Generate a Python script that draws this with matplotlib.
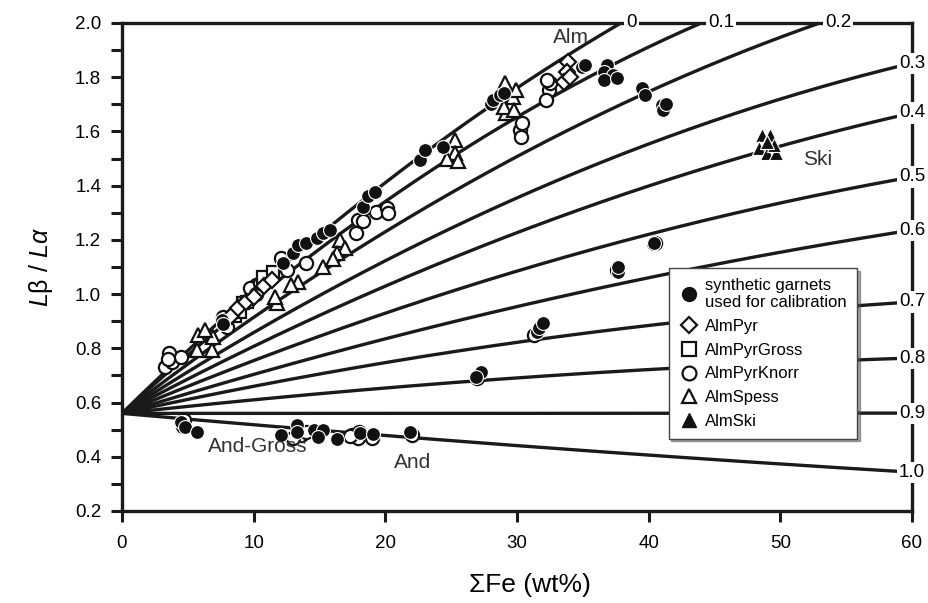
import matplotlib
matplotlib.use("Agg")
import matplotlib.pyplot as plt
import numpy as np
from matplotlib.lines import Line2D

plt.rcParams["font.family"] = ["Liberation Sans", "DejaVu Sans"]
plt.rcParams["mathtext.fontset"] = "custom"
plt.rcParams["mathtext.rm"] = "Liberation Sans"
plt.rcParams["mathtext.it"] = "Liberation Sans:italic"

# model curves: all start at (0, y0), pass a mid point and an end point
curve_labels = ["0", "0.1", "0.2", "0.3", "0.4", "0.5", "0.6", "0.7", "0.8", "0.9", "1.0"]
curve_y0 = 0.56
curve_xmid = 19.6
curve_ymid = [1.396, 1.328, 1.218, 1.113, 1.021, 0.923, 0.830, 0.744, 0.652, 0.560, 0.480]
curve_xend = [37.9, 44.0, 53.0, 60, 60, 60, 60, 60, 60, 60, 60]
curve_yend = [2.0, 2.0, 2.0, 1.852, 1.668, 1.432, 1.236, 0.971, 0.764, 0.561, 0.343]
# label positions for curves ending on the top edge
top_label_x = [38.7, 45.5, 54.4]

# synthetic garnets used for calibration (filled circles)
syn_x = [7.6, 7.7, 4.5, 4.8, 5.7, 12.1, 13.3, 13.3, 14.6, 15.3, 14.9, 16.3, 18.1, 19.1, 21.9,
         12.25, 13.0, 13.4, 14.0, 14.8, 15.3, 15.8, 18.3, 18.7, 19.2, 22.6, 23.0, 24.4,
         28.0, 28.2, 28.7, 29.0, 34.9, 35.2, 36.8, 36.6, 37.3, 36.6, 37.6, 39.5, 39.7,
         41.0, 41.1, 41.3, 40.3, 40.4, 37.7, 37.7, 31.5, 31.7, 32.0, 27.3, 26.9]
syn_y = [0.904, 0.89, 0.53, 0.51, 0.49, 0.48, 0.517, 0.49, 0.50, 0.498, 0.473, 0.467, 0.486, 0.483, 0.492,
         1.113, 1.15, 1.181, 1.187, 1.206, 1.224, 1.236, 1.32, 1.36, 1.377, 1.494, 1.531, 1.544,
         1.70, 1.716, 1.734, 1.74, 1.839, 1.845, 1.845, 1.82, 1.808, 1.79, 1.796, 1.759, 1.734,
         1.697, 1.679, 1.70, 1.184, 1.19, 1.082, 1.10, 0.861, 0.876, 0.892, 0.713, 0.695]

# AlmPyr (open diamonds)
pyr_x = [33.9, 33.8, 33.6, 34.0, 8.3, 8.8, 9.4, 10.0, 10.8, 11.4]
pyr_y = [1.857, 1.82, 1.783, 1.80, 0.92, 0.947, 0.97, 0.99, 1.03, 1.052]

# AlmPyrGross (open squares)
gross_x = [8.6, 9.0, 9.2, 9.5, 10.7, 11.5]
gross_y = [0.92, 0.935, 0.966, 0.972, 1.064, 1.08]

# AlmPyrKnorr (open circles)
knorr_x = [3.6, 3.3, 3.8, 4.5, 3.5, 7.7, 8.0, 10.2, 9.7, 10.2, 10.5, 12.1, 12.5, 14.0,
           17.8, 17.9, 18.3, 19.3, 20.1, 20.2, 30.2, 30.35, 30.3, 32.4, 32.2, 32.5, 32.3,
           13.6, 13.0, 14.0, 17.5, 17.9, 18.0, 17.3, 22.0, 4.7, 4.6, 27.0, 31.3, 40.5, 37.6, 19.0]
knorr_y = [0.781, 0.73, 0.75, 0.769, 0.76, 0.916, 0.88, 1.033, 1.021, 1.0, 1.04, 1.132, 1.089, 1.113,
           1.224, 1.273, 1.27, 1.304, 1.316, 1.30, 1.605, 1.63, 1.58, 1.753, 1.716, 1.778, 1.79,
           0.48, 0.47, 0.49, 0.48, 0.47, 0.49, 0.475, 0.48, 0.535, 0.515, 0.69, 0.85, 1.19, 1.09, 0.47]

# AlmSpess (open triangles)
spess_x = [29.2, 29.7, 29.9, 29.2, 29.0, 29.8, 29.1, 25.3, 25.3, 24.65, 25.5, 16.55, 16.9,
           16.3, 15.3, 16.0, 13.4, 12.8, 11.75, 11.65, 5.8, 5.67, 6.8, 6.9, 6.3]
spess_y = [1.753, 1.728, 1.753, 1.667, 1.69, 1.679, 1.78, 1.568, 1.52, 1.50, 1.49, 1.199, 1.169,
           1.15, 1.10, 1.13, 1.045, 1.033, 0.966, 0.99, 0.849, 0.793, 0.793, 0.842, 0.867]

# AlmSki (filled triangles)
ski_x = [48.6, 49.2, 48.4, 48.95, 49.7, 49.5, 49.0]
ski_y = [1.587, 1.587, 1.538, 1.519, 1.519, 1.55, 1.56]

# composition labels
comp_names = ["Alm", "Ski", "And-Gross", "And"]
comp_x = [34.1, 52.8, 10.3, 22.1]
comp_y = [1.945, 1.495, 0.436, 0.38]

fig = plt.figure(figsize=(9.29, 6.03), dpi=100)
ax = fig.add_axes([0.1313, 0.1526, 0.8504, 0.8093])

# curves
xs = np.linspace(0, 60, 400)
for lab, ym, xe, ye in zip(curve_labels, curve_ymid, curve_xend, curve_yend):
    coef = np.polyfit([0, curve_xmid, xe], [curve_y0, ym, ye], 2)
    ax.plot(xs, np.polyval(coef, xs), color="#1a1a1a", lw=2.4, zorder=2,
            solid_capstyle="butt")

lab_box = dict(facecolor="white", edgecolor="none", pad=1.5)
for i, lab in enumerate(curve_labels):
    if curve_yend[i] >= 2.0:
        ax.text(top_label_x[i], 2.0, lab, ha="center", va="center", fontsize=13.5,
                bbox=lab_box, zorder=6, clip_on=False)
    else:
        ax.text(60, curve_yend[i], lab, ha="center", va="center", fontsize=13.5,
                bbox=lab_box, zorder=6, clip_on=False)

ms = 9.5
open_kw = dict(linestyle="none", markerfacecolor="white", markeredgecolor="#111111",
               markeredgewidth=1.6, markersize=ms, zorder=3)
ax.plot(knorr_x, knorr_y, marker="o", **open_kw)
ax.plot(gross_x, gross_y, marker="s", **dict(open_kw, markersize=ms - 1))
ax.plot(pyr_x, pyr_y, marker="D", **dict(open_kw, markersize=ms - 1.5))
ax.plot(spess_x, spess_y, marker="^", **open_kw)
ax.plot(syn_x, syn_y, marker="o", linestyle="none", markerfacecolor="#111111",
        markeredgecolor="white", markeredgewidth=0.8, markersize=ms + 0.5, zorder=4)
ax.plot(ski_x, ski_y, marker="^", linestyle="none", markerfacecolor="#111111",
        markeredgecolor="white", markeredgewidth=0.8, markersize=ms + 0.5, zorder=4)

for name, tx, ty in zip(comp_names, comp_x, comp_y):
    ax.text(tx, ty, name, ha="center", va="center", fontsize=15, color="#333333", zorder=5)

ax.set_xlim(0, 60)
ax.set_ylim(0.2, 2.0)
ax.set_xticks(np.arange(0, 61, 10))
ax.set_yticks(np.arange(0.2, 2.01, 0.2))
ax.set_yticks(np.arange(0.3, 2.0, 0.2), minor=True)
ax.set_yticklabels([f"{v:.1f}" for v in np.arange(0.2, 2.01, 0.2)])
ax.tick_params(axis="both", which="both", direction="out", length=8, width=2.2,
               labelsize=13.5, color="#1a1a1a")
ax.tick_params(axis="x", pad=9)
ax.tick_params(axis="y", pad=7)
for side in ["left", "bottom", "top", "right"]:
    ax.spines[side].set_linewidth(2.4)
    ax.spines[side].set_color("#1a1a1a")

ax.set_xlabel("ΣFe (wt%)", fontsize=19)
ax.xaxis.set_label_coords(0.516, -0.128)
ax.set_ylabel(r"$L$β / $L\alpha$", fontsize=18, labelpad=14)

handles = [
    Line2D([], [], marker="o", ls="none", mfc="#111111", mec="#111111", ms=10),
    Line2D([], [], marker="D", ls="none", mfc="white", mec="#111111", mew=1.6, ms=8),
    Line2D([], [], marker="s", ls="none", mfc="white", mec="#111111", mew=1.6, ms=9.5),
    Line2D([], [], marker="o", ls="none", mfc="white", mec="#111111", mew=1.6, ms=10),
    Line2D([], [], marker="^", ls="none", mfc="white", mec="#111111", mew=1.6, ms=10),
    Line2D([], [], marker="^", ls="none", mfc="#111111", mec="#111111", ms=10),
]
names = ["synthetic garnets\nused for calibration", "AlmPyr", "AlmPyrGross",
         "AlmPyrKnorr", "AlmSpess", "AlmSki"]
leg = ax.legend(handles, names, loc="upper left", bbox_to_anchor=(0.692, 0.498),
                borderaxespad=0, fontsize=12, frameon=True, fancybox=False,
                shadow=True, handletextpad=0.4, handlelength=1.2,
                labelspacing=0.52, borderpad=0.6)
leg.get_frame().set_edgecolor("#444444")
leg.get_frame().set_linewidth(1.0)
leg.set_zorder(7)

fig.savefig("out.png", dpi=100)
